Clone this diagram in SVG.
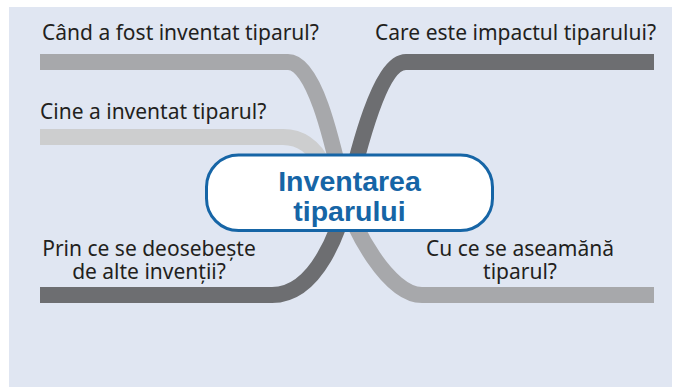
<svg xmlns="http://www.w3.org/2000/svg" width="677" height="387" viewBox="0 0 677 387">
  <style>
    .lbl { font-family: "Noto Sans", "Liberation Sans", sans-serif; font-size: 21px; fill: #231f20; }
    .title { font-family: "Liberation Sans", "Noto Sans", sans-serif; font-size: 28.5px; font-weight: bold; fill: #1665a6; text-anchor: middle; }
    .conn { fill: none; stroke-width: 16; stroke-linecap: butt; }
    .light { stroke: #cdcecf; }
    .mid { stroke: #a7a8ab; }
    .dark { stroke: #6d6e71; }
  </style>
  <rect x="9" y="7" width="663" height="380" fill="#e0e6f2"/>
  <g id="connectors">
    <path class="conn light" d="M40,137 H283 C300,137 314,146 324,166"/>
    <path class="conn dark" d="M654,62 H406 C380,62 358,150 346,201 C340,226 318,295 272,295 H40"/>
    <path class="conn mid" d="M40,62 H288 C316,62 334,150 346,201 C352,226 388,295 422,295 H654"/>
  </g>
  <g id="center">
    <rect x="206.5" y="155" width="286" height="75.5" rx="32" ry="32" fill="#ffffff" stroke="#1665a6" stroke-width="3"/>
    <text class="title" x="349.5" y="191">Inventarea</text>
    <text class="title" x="349.5" y="221">tiparului</text>
  </g>
  <g id="q-cand">
    <text class="lbl" x="42" y="40">Când a fost inventat tiparul?</text>
  </g>
  <g id="q-cine">
    <text class="lbl" x="40" y="119">Cine a inventat tiparul?</text>
  </g>
  <g id="q-impact">
    <text class="lbl" x="656" y="40" text-anchor="end">Care este impactul tiparului?</text>
  </g>
  <g id="q-deosebeste">
    <text class="lbl" x="149" y="256" text-anchor="middle">Prin ce se deosebește</text>
    <text class="lbl" x="149" y="279" text-anchor="middle">de alte invenții?</text>
  </g>
  <g id="q-aseamana">
    <text class="lbl" x="520" y="256" text-anchor="middle">Cu ce se aseamănă</text>
    <text class="lbl" x="520" y="279" text-anchor="middle">tiparul?</text>
  </g>
</svg>
